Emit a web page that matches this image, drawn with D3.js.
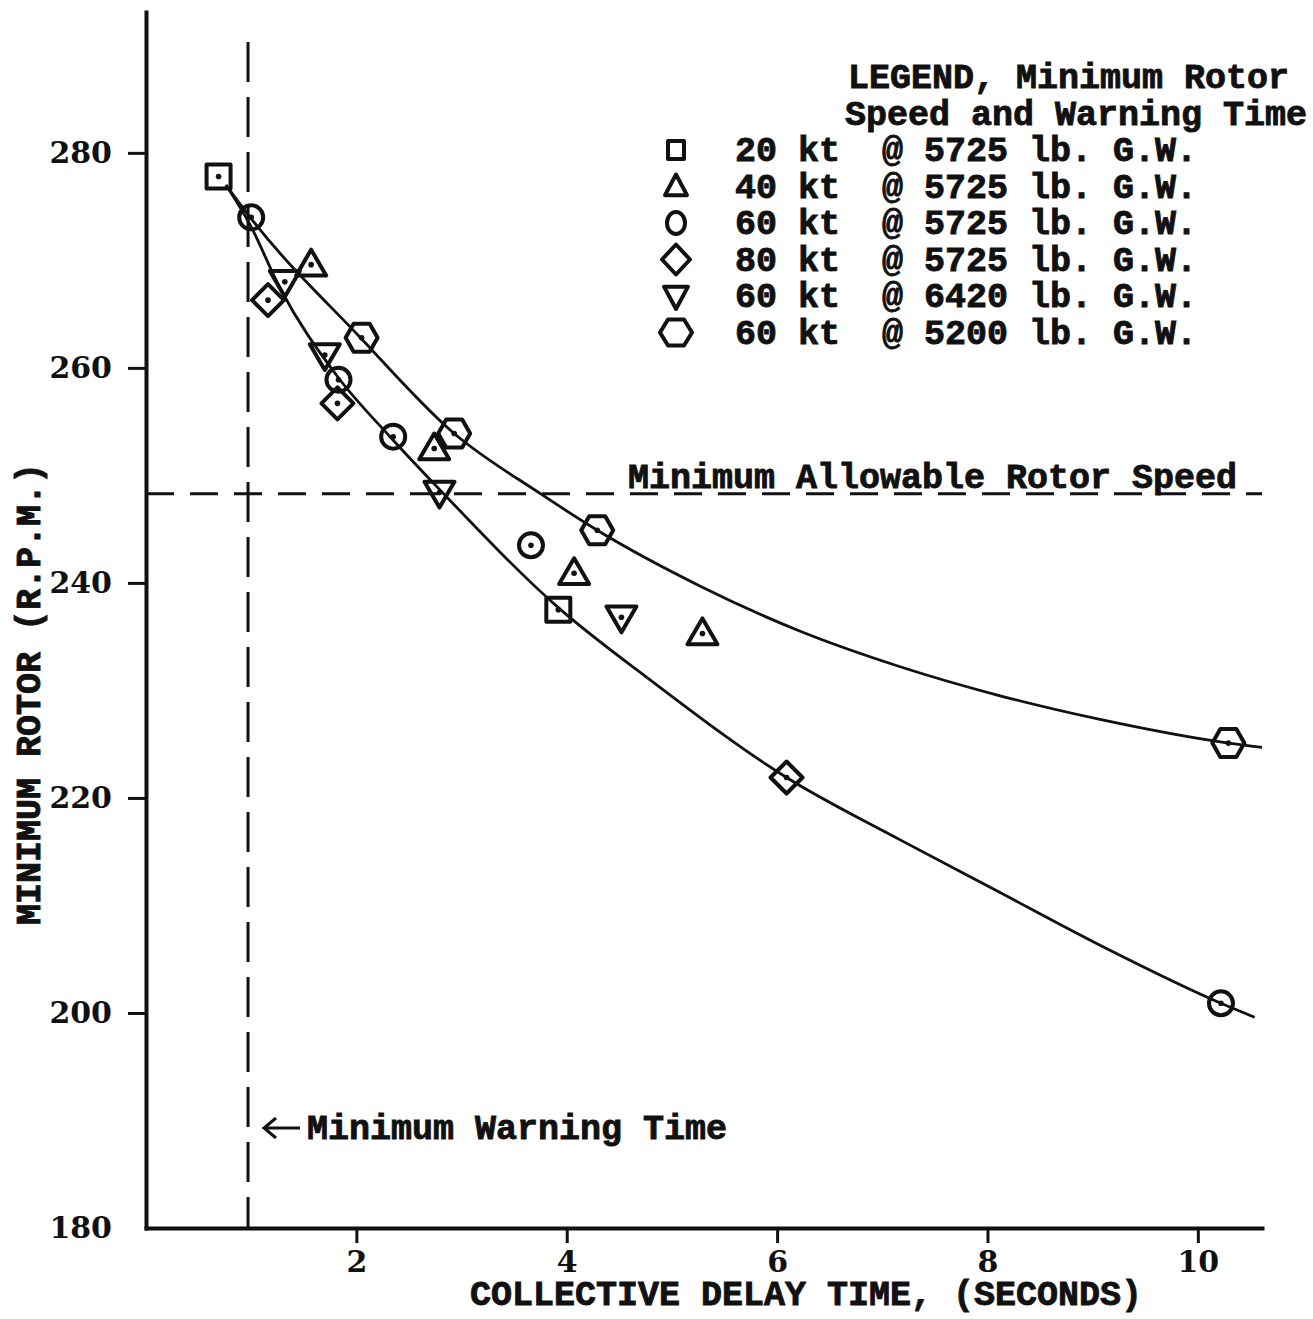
<!DOCTYPE html>
<html>
<head>
<meta charset="utf-8">
<title>Minimum Rotor Speed vs Collective Delay Time</title>
<style>
  body { margin: 0; background: #fff; }
  .mono { font-family: "Liberation Mono", "DejaVu Sans Mono", monospace; font-weight: bold; font-size: 35px; fill: #111; stroke: #111; stroke-width: 0.9px; }
  .axis text { font-family: "DejaVu Serif", serif; font-weight: bold; font-size: 30px; fill: #111; }
  .axis path, .axis line { stroke: #111; }
</style>
</head>
<body>
<svg id="chart" width="1313" height="1319"></svg>
<script src="https://cdn.jsdelivr.net/npm/d3@7"></script>
<script>
// ---- data (seconds, rpm) ----
var sq20 = [[0.69, 277.8], [3.92, 237.5]];
var tri40 = [[1.57, 269.6], [2.74, 252.5], [4.07, 240.9], [5.29, 235.3]];
var circ60 = [[1.00, 274.0], [1.83, 258.9], [2.35, 253.6], [3.66, 243.5], [10.22, 200.9]];
var dia80 = [[1.16, 266.3], [1.82, 256.7], [6.09, 221.9]];
var triDown6420 = [[1.32, 268.0], [1.70, 261.2], [2.79, 248.4], [4.52, 236.8]];
var hex5200 = [[2.05, 262.8], [2.93, 253.9], [4.29, 244.9], [10.29, 225.1]];

// faired curves through the points
var upperCurve = [[0.76, 277.0], [0.99, 274.0], [2.03, 262.9], [2.93, 253.9], [3.75, 248.3], [4.29, 244.9],
  [5.27, 239.7], [6.22, 235.5], [7.17, 232.2], [8.12, 229.5], [9.07, 227.3], [10.29, 225.1], [10.61, 224.7]];
var lowerCurve = [[0.76, 277.0], [0.99, 273.3], [1.27, 267.5], [1.82, 259.2], [2.32, 253.6], [2.79, 248.7],
  [3.92, 237.7], [4.79, 231.0], [6.09, 221.9], [7.17, 216.1], [8.12, 211.2], [9.07, 206.3], [10.22, 200.9], [10.54, 199.6]];

var minWarningTime = 0.97;
var minAllowableRpm = 248.3;

var xTicks = [2, 4, 6, 8, 10];
var yTicks = [180, 200, 220, 240, 260, 280];

var legendLabels = ["20 kt  @ 5725 lb. G.W.", "40 kt  @ 5725 lb. G.W.", "60 kt  @ 5725 lb. G.W.",
  "80 kt  @ 5725 lb. G.W.", "60 kt  @ 6420 lb. G.W.", "60 kt  @ 5200 lb. G.W."];
var shapes = ["square", "triangle", "circle", "diamond", "triangleDown", "hexagon"];
var seriesData = [sq20, tri40, circ60, dia80, triDown6420, hex5200];

/******* setup *******/
var svg = d3.select("#chart");
var x = d3.scaleLinear().domain([0, 10.61]).range([146, 1262]);
var y = d3.scaleLinear().domain([180, 293.1]).range([1228, 12]);

//polygon outline for a marker, w / h = half width / half height
function shapePath(type, w, h) {
  var pts;
  if (type == "square") pts = [[-w, -h], [w, -h], [w, h], [-w, h]];
  else if (type == "triangle") pts = [[0, -h], [w, h * 0.72], [-w, h * 0.72]];
  else if (type == "triangleDown") pts = [[0, h], [w, -h * 0.72], [-w, -h * 0.72]];
  else if (type == "diamond") pts = [[0, -h], [w, 0], [0, h], [-w, 0]];
  else pts = [[-w, 0], [-w / 2, -h], [w / 2, -h], [w, 0], [w / 2, h], [-w / 2, h]];
  return "M" + pts.map(function(d) { return d.join(","); }).join("L") + "Z";
}

function ellipsePath(rx, ry) {
  return "M" + (-rx) + ",0A" + rx + "," + ry + " 0 1,0 " + rx + ",0A" + rx + "," + ry + " 0 1,0 " + (-rx) + ",0Z";
}

var markerSize = {
  square: [12, 12], triangle: [15, 15], circle: [12, 12],
  diamond: [16, 16], triangleDown: [15, 15], hexagon: [16, 14]
};
var legendSize = {
  square: [8, 9], triangle: [11, 12], circle: [9, 11],
  diamond: [14, 15], triangleDown: [12, 13], hexagon: [16, 13]
};

function symbol(type, s) {
  if (type == "circle") return ellipsePath(s[0], s[1]);
  return shapePath(type, s[0], s[1]);
}

/******* axes *******/
var yAxis = svg.append("g")
  .attr("class", "axis")
  .attr("transform", "translate(" + x(0) + ",0)")
  .call(d3.axisLeft(y).tickValues(yTicks).tickSize(18).tickSizeOuter(0).tickPadding(16).tickFormat(d3.format("d")));
yAxis.select(".domain").attr("stroke-width", 4);
yAxis.selectAll(".tick line").attr("stroke-width", 3)
  .filter(function(d) { return d == 180; }).remove();

var xAxis = svg.append("g")
  .attr("class", "axis")
  .attr("transform", "translate(0," + y(180) + ")")
  .call(d3.axisBottom(x).tickValues(xTicks).tickSize(15).tickSizeOuter(0).tickPadding(8).tickFormat(d3.format("d")));
xAxis.select(".domain").attr("stroke-width", 4);
xAxis.selectAll(".tick line").attr("stroke-width", 3);
svg.selectAll(".axis .domain").attr("stroke-linecap", "square");

//axis titles
svg.append("text").attr("class", "mono")
  .attr("x", 470).attr("y", 1305)
  .text("COLLECTIVE DELAY TIME, (SECONDS)");

svg.append("text").attr("class", "mono")
  .attr("transform", "translate(40,925) rotate(-90)")
  .text("MINIMUM ROTOR (R.P.M.)");

/******* reference lines *******/
svg.append("line")
  .attr("x1", x(minWarningTime)).attr("x2", x(minWarningTime))
  .attr("y1", 42).attr("y2", y(180))
  .attr("stroke", "#111").attr("stroke-width", 3)
  .attr("stroke-dasharray", "40,15");

svg.append("line")
  .attr("x1", x(0)).attr("x2", x(10.61))
  .attr("y1", y(minAllowableRpm)).attr("y2", y(minAllowableRpm))
  .attr("stroke", "#111").attr("stroke-width", 3)
  .attr("stroke-dasharray", "28,16");

svg.append("text").attr("class", "mono")
  .attr("x", 628).attr("y", y(minAllowableRpm) - 6)
  .text("Minimum Allowable Rotor Speed");

//warning time note with arrow
var ay = 1128;
svg.append("path")
  .attr("d", "M300," + ay + "H264M276," + (ay - 10) + "L264," + ay + "L276," + (ay + 10))
  .attr("fill", "none").attr("stroke", "#111").attr("stroke-width", 3);
svg.append("text").attr("class", "mono")
  .attr("x", 307).attr("y", ay + 11)
  .text("Minimum Warning Time");

/******* curves *******/
var line = d3.line()
  .x(function(d) { return x(d[0]); })
  .y(function(d) { return y(d[1]); })
  .curve(d3.curveMonotoneX);

svg.selectAll(".fair")
  .data([upperCurve, lowerCurve])
  .enter().append("path")
  .attr("class", "fair")
  .attr("d", line)
  .attr("fill", "none")
  .attr("stroke", "#111")
  .attr("stroke-width", 2.8);

/******* points *******/
seriesData.forEach(function(data, i) {
  var g = svg.append("g").selectAll("g")
    .data(data)
    .enter().append("g")
    .attr("transform", function(d) { return "translate(" + x(d[0]) + "," + y(d[1]) + ")"; });
  g.append("path")
    .attr("d", symbol(shapes[i], markerSize[shapes[i]]))
    .attr("fill", "none")
    .attr("stroke", "#111")
    .attr("stroke-width", 4)
    .attr("stroke-linejoin", "round");
  g.append("circle").attr("r", 2.8).attr("fill", "#111");
});

/******* legend *******/
svg.append("text").attr("class", "mono").attr("x", 848).attr("y", 88).text("LEGEND, Minimum Rotor");
svg.append("text").attr("class", "mono").attr("x", 845).attr("y", 125).text("Speed and Warning Time");

var legend = svg.append("g")
  .selectAll("g")
  .data(legendLabels)
  .enter().append("g")
  .attr("transform", function(d, i) { return "translate(0," + (150 + i * 36.5) + ")"; });

legend.append("path")
  .attr("transform", "translate(676,0)")
  .attr("d", function(d, i) { return symbol(shapes[i], legendSize[shapes[i]]); })
  .attr("fill", "none")
  .attr("stroke", "#111")
  .attr("stroke-width", 4)
  .attr("stroke-linejoin", "round");

legend.append("text")
  .attr("class", "mono")
  .attr("x", 735)
  .attr("y", 11)
  .attr("xml:space", "preserve")
  .style("white-space", "pre")
  .text(function(d) { return d; });
</script>
</body>
</html>
